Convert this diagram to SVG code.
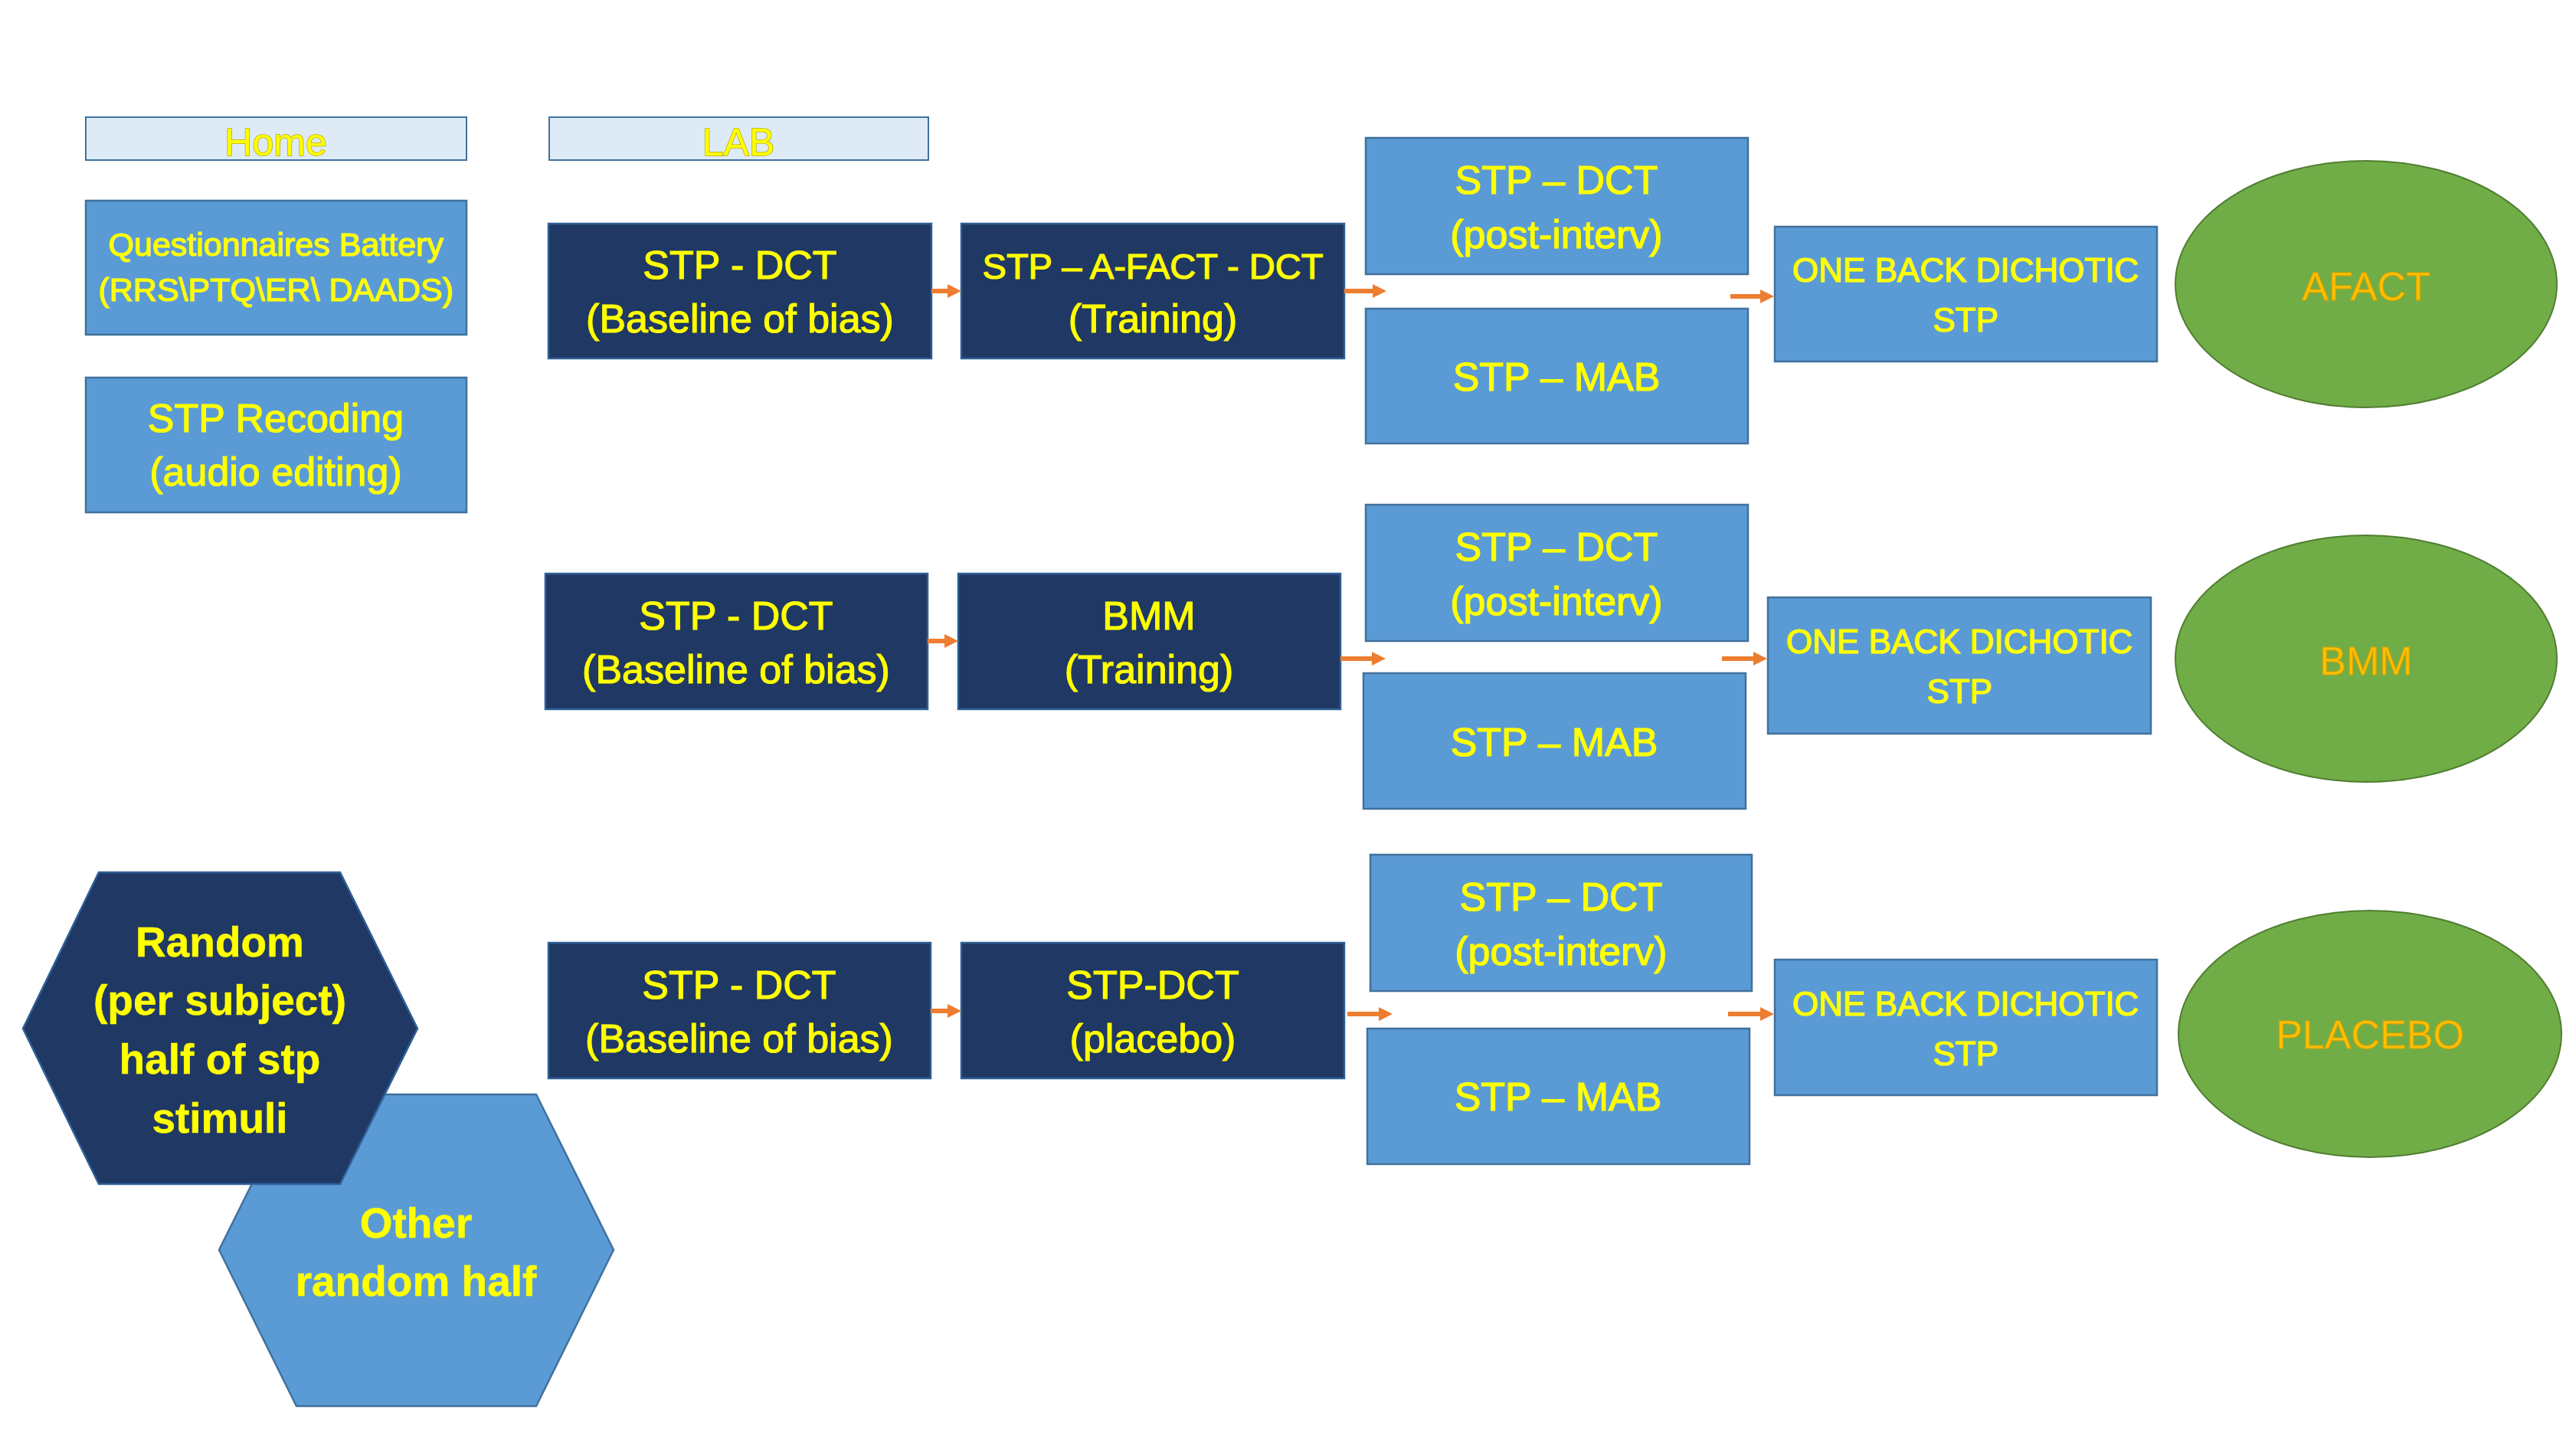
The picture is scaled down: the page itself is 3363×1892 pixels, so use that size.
<svg xmlns="http://www.w3.org/2000/svg" width="3363" height="1892" viewBox="0 0 3363 1892">
<defs>
<style>
text{font-family:"Liberation Sans",Arial,sans-serif;text-anchor:middle;fill:#FFFF00;stroke:#FFFF00;stroke-width:1.2}
.hd{font-size:50px;stroke:#B8B000;stroke-width:1.6;paint-order:stroke}
.hdr{fill:#DEEBF7;stroke:#41719C;stroke-width:2}
.lt{fill:#5B9BD5;stroke:#41719C;stroke-width:2.5}
.dk{fill:#203864;stroke:#2F5F95;stroke-width:2.5}
.ov{fill:#70AD47;stroke:#507E32;stroke-width:2}
.f52{font-size:52px}
.f44{font-size:44px}
.b55{font-size:55px;font-weight:bold;stroke-width:0.5}
.ot{font-size:52px;fill:#FFC000;stroke:#D9A400;stroke-width:1.2}
.arr{stroke:#ED7D31;stroke-width:6;fill:none;marker-end:url(#ah)}
</style>
<marker id="ah" markerUnits="userSpaceOnUse" markerWidth="20" markerHeight="20" refX="1" refY="9" orient="auto">
<path d="M0,0 L18,9 L0,18 z" fill="#ED7D31"/>
</marker>
</defs>
<rect width="3363" height="1892" fill="#FFFFFF"/>

<g id="home"><rect class="hdr" x="112" y="153" width="497" height="56"/><text class="hd" x="360" y="203">Home</text></g>
<g id="lab"><rect class="hdr" x="717" y="153" width="495" height="56"/><text class="hd" x="964" y="203">LAB</text></g>

<g id="questionnaires"><rect class="lt" x="112" y="262" width="497" height="175"/>
<text x="360" y="334" style="font-size:43px">Questionnaires Battery</text>
<text x="360" y="393" style="font-size:43px">(RRS\PTQ\ER\ DAADS)</text></g>
<g id="recoding"><rect class="lt" x="112" y="493" width="497" height="176"/>
<text class="f52" x="360" y="564">STP Recoding</text>
<text class="f52" x="360" y="634">(audio editing)</text></g>

<g id="other-half"><polygon class="lt" points="286,1632 387,1429 700,1429 801,1632 700,1836 387,1836"/>
<text class="b55" x="543" y="1616">Other</text>
<text class="b55" x="543" y="1692">random half</text></g>
<g id="random-half"><polygon class="dk" points="30,1343 129,1139 444,1139 545,1343 444,1546 129,1546"/>
<text class="b55" x="287" y="1249">Random</text>
<text class="b55" x="287" y="1325">(per subject)</text>
<text class="b55" x="287" y="1402">half of stp</text>
<text class="b55" x="287" y="1479">stimuli</text></g>

<!-- Row 1 -->
<g id="r1-baseline"><rect class="dk" x="716" y="292" width="500" height="176"/>
<text class="f52" x="966" y="364">STP - DCT</text><text class="f52" x="966" y="434">(Baseline of bias)</text></g>
<g id="r1-training"><rect class="dk" x="1255" y="292" width="500" height="176"/>
<text x="1505" y="364" style="font-size:47px">STP – A-FACT - DCT</text><text class="f52" x="1505" y="434">(Training)</text></g>
<g id="r1-post"><rect class="lt" x="1783" y="180" width="499" height="178"/>
<text class="f52" x="2032" y="253">STP – DCT</text><text class="f52" x="2032" y="324">(post-interv)</text></g>
<g id="r1-mab"><rect class="lt" x="1783" y="403" width="499" height="176"/>
<text class="f52" x="2032" y="510">STP – MAB</text></g>
<g id="r1-oneback"><rect class="lt" x="2317" y="296" width="499" height="176"/>
<text class="f44" x="2566" y="368">ONE BACK DICHOTIC</text><text class="f44" x="2566" y="433">STP</text></g>
<g id="r1-afact"><ellipse class="ov" cx="3089" cy="371" rx="249" ry="161"/>
<text class="ot" x="3089" y="392">AFACT</text></g>

<!-- Row 2 -->
<g id="r2-baseline"><rect class="dk" x="712" y="749" width="499" height="177"/>
<text class="f52" x="961" y="822">STP - DCT</text><text class="f52" x="961" y="892">(Baseline of bias)</text></g>
<g id="r2-training"><rect class="dk" x="1251" y="749" width="499" height="177"/>
<text class="f52" x="1500" y="822">BMM</text><text class="f52" x="1500" y="892">(Training)</text></g>
<g id="r2-post"><rect class="lt" x="1783" y="659" width="499" height="178"/>
<text class="f52" x="2032" y="732">STP – DCT</text><text class="f52" x="2032" y="803">(post-interv)</text></g>
<g id="r2-mab"><rect class="lt" x="1780" y="879" width="499" height="177"/>
<text class="f52" x="2029" y="987">STP – MAB</text></g>
<g id="r2-oneback"><rect class="lt" x="2308" y="780" width="500" height="178"/>
<text class="f44" x="2558" y="853">ONE BACK DICHOTIC</text><text class="f44" x="2558" y="918">STP</text></g>
<g id="r2-bmm"><ellipse class="ov" cx="3089" cy="860" rx="249" ry="161"/>
<text class="ot" x="3089" y="881">BMM</text></g>

<!-- Row 3 -->
<g id="r3-baseline"><rect class="dk" x="716" y="1231" width="499" height="177"/>
<text class="f52" x="965" y="1304">STP - DCT</text><text class="f52" x="965" y="1374">(Baseline of bias)</text></g>
<g id="r3-placebo-training"><rect class="dk" x="1255" y="1231" width="500" height="177"/>
<text class="f52" x="1505" y="1304">STP-DCT</text><text class="f52" x="1505" y="1374">(placebo)</text></g>
<g id="r3-post"><rect class="lt" x="1789" y="1116" width="498" height="178"/>
<text class="f52" x="2038" y="1189">STP – DCT</text><text class="f52" x="2038" y="1260">(post-interv)</text></g>
<g id="r3-mab"><rect class="lt" x="1785" y="1343" width="499" height="177"/>
<text class="f52" x="2034" y="1450">STP – MAB</text></g>
<g id="r3-oneback"><rect class="lt" x="2317" y="1253" width="499" height="177"/>
<text class="f44" x="2566" y="1326">ONE BACK DICHOTIC</text><text class="f44" x="2566" y="1391">STP</text></g>
<g id="r3-placebo"><ellipse class="ov" cx="3094" cy="1350" rx="250" ry="161"/>
<text class="ot" x="3094" y="1369">PLACEBO</text></g>

<g id="connectors">
<line class="arr" x1="1216" y1="380" x2="1238" y2="380"/>
<line class="arr" x1="1755" y1="380" x2="1793" y2="380"/>
<line class="arr" x1="2259" y1="387" x2="2299" y2="387"/>
<line class="arr" x1="1211" y1="837" x2="1234" y2="837"/>
<line class="arr" x1="1750" y1="860" x2="1792" y2="860"/>
<line class="arr" x1="2248" y1="860" x2="2290" y2="860"/>
<line class="arr" x1="1215" y1="1320" x2="1238" y2="1320"/>
<line class="arr" x1="1759" y1="1324" x2="1801" y2="1324"/>
<line class="arr" x1="2256" y1="1324" x2="2299" y2="1324"/>
</g>
</svg>
